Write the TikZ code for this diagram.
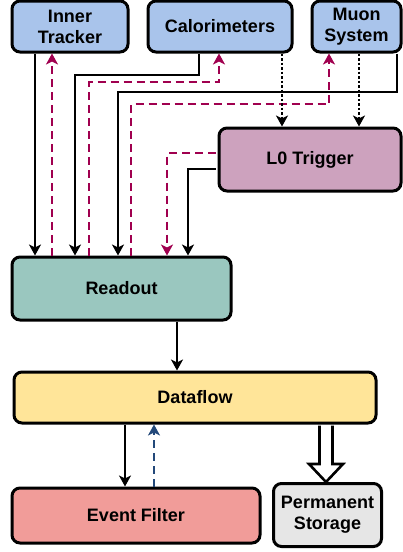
\documentclass[tikz,border=0pt]{standalone}
\usepackage{fontspec}
\setmainfont{Liberation Sans}
\usetikzlibrary{arrows.meta,calc}
\definecolor{cblue}{HTML}{A9C4EB}
\definecolor{cpurp}{HTML}{CDA2BE}
\definecolor{cteal}{HTML}{9AC7BF}
\definecolor{cyell}{HTML}{FFE599}
\definecolor{cred}{HTML}{F19C99}
\definecolor{cgray}{HTML}{E6E6E6}
\definecolor{cmag}{HTML}{A0004F}
\definecolor{cnavy}{HTML}{23497A}
\tikzset{
  box/.style={draw=black, line width=3pt, rounded corners=8pt, align=center,
    font=\fontsize{18}{21}\selectfont\bfseries, inner sep=0pt},
  arr/.style={line width=2.6pt, -{Stealth[length=11pt,width=12pt,inset=3pt]}},
  mag/.style={arr, draw=cmag, dash pattern=on 8pt off 5pt},
  navy/.style={arr, draw=cnavy, dash pattern=on 8pt off 5pt},
  dotl/.style={arr, dash pattern=on 2.5pt off 2pt},
}
\begin{document}
\begin{tikzpicture}[x=1pt,y=-1pt]
\useasboundingbox (0,0) rectangle (403,552);
% nodes
\node[box, fill=cblue, minimum width=116pt, minimum height=51pt] (it) at (70,26.5) {Inner\\Tracker};
\node[box, fill=cblue, minimum width=144pt, minimum height=51pt] (cal) at (220,26.5) {Calorimeters};
\node[box, fill=cblue, minimum width=89pt, minimum height=51pt] (mu) at (356.5,26.5) {Muon\\System};
\node[box, fill=cpurp, minimum width=182pt, minimum height=63pt] (l0) at (310,159.5) {L0 Trigger};
\node[box, fill=cteal, minimum width=219pt, minimum height=63pt] (ro) at (121.5,288.5) {Readout};
\node[box, fill=cyell, minimum width=362pt, minimum height=51pt] (df) at (195,397.5) {Dataflow};
\node[box, fill=cred, minimum width=248pt, minimum height=55pt] (ef) at (136,515.5) {Event Filter};
\node[box, fill=cgray, minimum width=108pt, minimum height=63pt] (ps) at (327.5,515) {Permanent\\Storage};
% lane coordinates
\coordinate (itS) at (35,0);
\coordinate (itD) at (52,0);
\coordinate (cb1) at (199,75);
\coordinate (cb2) at (75,75);
\coordinate (cd1) at (89,82);
\coordinate (cd2) at (219,82);
\coordinate (mb1) at (397,92);
\coordinate (mb2) at (118,92);
\coordinate (md1) at (131,104);
\coordinate (md2) at (329,104);
\coordinate (dt1) at (282,0);
\coordinate (dt2) at (359,0);
\coordinate (ld1) at (167,153);
\coordinate (ls1) at (188,169);
\coordinate (rx) at (177,0);
\coordinate (ex1) at (125,0);
\coordinate (ex2) at (154,0);
% connectors
\draw[arr] (it.south -| itS) -- (ro.north -| itS);
\draw[mag] (ro.north -| itD) -- (it.south -| itD);
\draw[arr] (cal.south -| cb1) -- (cb1) -- (cb2) -- (ro.north -| cb2);
\draw[mag] (ro.north -| cd1) -- (cd1) -- (cd2) -- (cal.south -| cd2);
\draw[arr] (mu.south -| mb1) -- (mb1) -- (mb2) -- (ro.north -| mb2);
\draw[mag] (ro.north -| md1) -- (md1) -- (md2) -- (mu.south -| md2);
\draw[dotl] (cal.south -| dt1) -- (l0.north -| dt1);
\draw[dotl] (mu.south -| dt2) -- (l0.north -| dt2);
\draw[mag] ([xshift=-2pt]l0.west |- ld1) -- (ld1) -- (ro.north -| ld1);
\draw[arr] ([xshift=-2pt]l0.west |- ls1) -- (ls1) -- (ro.north -| ls1);
\draw[arr] (ro.south -| rx) -- (df.north -| rx);
\draw[arr] (df.south -| ex1) -- (ef.north -| ex1);
\draw[navy] (ef.north -| ex2) -- (df.south -| ex2);
% hollow arrow Dataflow -> Permanent Storage
\coordinate (ha) at ($(df.south -| ps.north)+(-1.5,0)$);
\coordinate (hb) at ($(ps.north)+(-1.5,0)$);
\draw[line width=2.6pt, fill=white, line join=miter]
  ($(ha)+(-6.5,1)$) -- ($(hb)+(-6.5,-18)$) -- ($(hb)+(-17,-18)$) -- (hb)
  -- ($(hb)+(17,-18)$) -- ($(hb)+(6.5,-18)$) -- ($(ha)+(6.5,1)$);
\end{tikzpicture}
\end{document}
